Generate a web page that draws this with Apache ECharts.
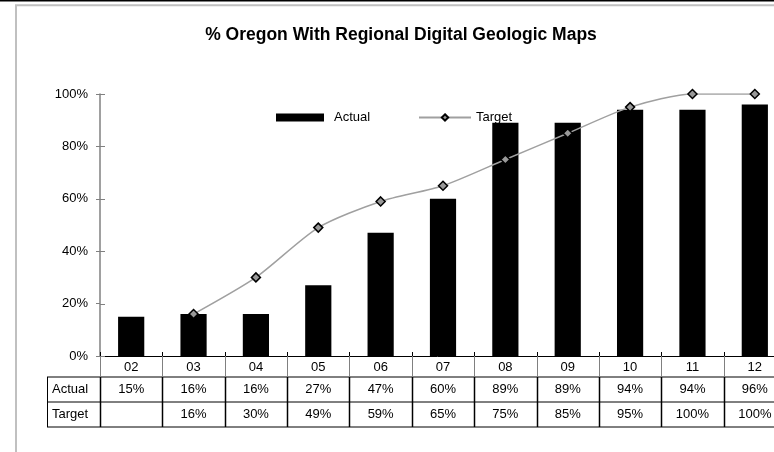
<!DOCTYPE html>
<html style="height: 100%">
<head>
<meta charset="utf-8">
<script src="https://cdn.jsdelivr.net/npm/echarts@6/dist/echarts.min.js"></script>
</head>
<body style="height: 100%; margin: 0; background: #fff">
<div id="container" style="width: 774px; height: 452px"></div>
<script type="text/javascript">
var years = ['02', '03', '04', '05', '06', '07', '08', '09', '10', '11', '12'];
var actual = [15, 16, 16, 27, 47, 60, 89, 89, 94, 94, 96];
var target = [null, 16, 30, 49, 59, 65, 75, 85, 95, 100, 100];
var rowNames = ['Actual', 'Target'];
var yTicks = [0, 20, 40, 60, 80, 100];

var font = 'Liberation Sans, Arial, sans-serif';
// plot area (the last category runs off the right edge, as in the picture)
var gLeft = 100, gTop = 94, gHeight = 262, gWidth = 686;
var rowH = 21, rowH2 = 25;
var axisY = gTop + gHeight;

function pct(v) { return v == null ? '' : v + '%'; }

var dom = document.getElementById('container');
var myChart = echarts.init(dom, null, {renderer: 'canvas'});

var option = {
    animation: false,
    backgroundColor: '#fff',
    title: {
        text: '% Oregon With Regional Digital Geologic Maps',
        left: 396,
        textAlign: 'center',
        top: 21,
        textStyle: {fontFamily: font, fontSize: 17.5, fontWeight: 'bold', color: '#000'}
    },
    legend: [
        {
            left: 271,
            top: 106,
            itemWidth: 48,
            itemHeight: 8,
            textStyle: {fontFamily: font, fontSize: 13, color: '#000', padding: [0, 0, 0, 5]},
            data: [{name: 'Actual', icon: 'rect'}]
        },
        {
            left: 413,
            top: 106,
            itemWidth: 52,
            itemHeight: 8,
            textStyle: {fontFamily: font, fontSize: 13, color: '#000'},
            data: ['Target']
        }
    ],
    grid: {left: gLeft, top: gTop, width: gWidth, height: gHeight, outerBoundsMode: 'none', containLabel: false},
    xAxis: [
        {
            type: 'category',
            data: years,
            position: 'bottom',
            axisLine: {lineStyle: {color: '#000', width: 1}},
            axisTick: {show: false},
            axisLabel: {fontFamily: font, fontSize: 13, color: '#000', margin: 5}
        },
        {
            type: 'category',
            data: years,
            position: 'bottom',
            offset: rowH,
            axisLine: {show: false},
            axisTick: {show: false},
            axisLabel: {
                fontFamily: font, fontSize: 13, color: '#000', margin: 6,
                formatter: function (v, i) { return pct(actual[i]); }
            }
        },
        {
            type: 'category',
            data: years,
            position: 'bottom',
            offset: rowH + rowH2,
            axisLine: {show: false},
            axisTick: {show: false},
            axisLabel: {
                fontFamily: font, fontSize: 13, color: '#000', margin: 6,
                formatter: function (v, i) { return pct(target[i]); }
            }
        }
    ],
    yAxis: {
        type: 'value',
        min: 0,
        max: 100,
        interval: 20,
        axisLine: {show: true, lineStyle: {color: '#808080', width: 1.5}},
        axisTick: {show: true, length: 4, lineStyle: {color: '#808080'}},
        axisLabel: {fontFamily: font, fontSize: 13, color: '#000', margin: 12, formatter: '{value}%'},
        splitLine: {show: false}
    },
    series: [
        {
            name: 'Actual',
            type: 'bar',
            data: actual,
            barWidth: '42%',
            itemStyle: {color: '#000'}
        },
        {
            name: 'Target',
            type: 'line',
            data: target,
            smooth: 0.25,
            symbol: 'diamond',
            symbolSize: 9,
            lineStyle: {color: '#a0a0a0', width: 1.5},
            itemStyle: {color: '#999', borderColor: '#000', borderWidth: 1.5},
            z: 5
        }
    ]
};

myChart.setOption(option);

// frame, data-table grid and crossing ticks, placed from the axes
var c0 = myChart.convertToPixel({xAxisIndex: 0}, years[0]);
var c1 = myChart.convertToPixel({xAxisIndex: 0}, years[1]);
var band = c1 - c0;
var x0 = c0 - band / 2;
var xEnd = x0 + band * years.length;
var y1 = axisY + rowH, y2 = y1 + rowH2, y3 = y2 + rowH2;

function ln(xa, ya, xb, yb, color, w) {
    return {type: 'line', silent: true, z: 10,
        shape: {x1: xa, y1: ya, x2: xb, y2: yb},
        style: {stroke: color, lineWidth: w}};
}

var g = [
    ln(0, 0.5, 774, 0.5, '#000', 2),
    {type: 'rect', shape: {x: 16, y: 5.3, width: 800, height: 600}, style: {fill: null, stroke: '#c0c0c0', lineWidth: 2}},
    ln(47, y1, xEnd, y1, '#000', 1),
    ln(47, y2, xEnd, y2, '#000', 1),
    ln(47, y3, xEnd, y3, '#000', 1),
    ln(47.5, y1, 47.5, y3, '#000', 1)
];
for (var k = 0; k <= years.length; k++) {
    var x = Math.round(x0 + k * band) + 0.5;
    g.push(ln(x, axisY, x, y1, '#808080', 1));
    g.push(ln(x, y1, x, y3, '#000', 1.5));
    g.push(ln(x, axisY - 4, x, axisY, '#000', 1));
}
yTicks.forEach(function (v) {
    var y = Math.round(myChart.convertToPixel({yAxisIndex: 0}, v)) + 0.5;
    g.push(ln(gLeft, y, gLeft + 5, y, '#808080', 1));
});
rowNames.forEach(function (n, i) {
    g.push({
        type: 'text',
        left: 52,
        top: y1 + i * rowH2 + 6,
        style: {text: n, font: '13px ' + font, fill: '#000'}
    });
});
myChart.setOption({graphic: g});
</script>
</body>
</html>
